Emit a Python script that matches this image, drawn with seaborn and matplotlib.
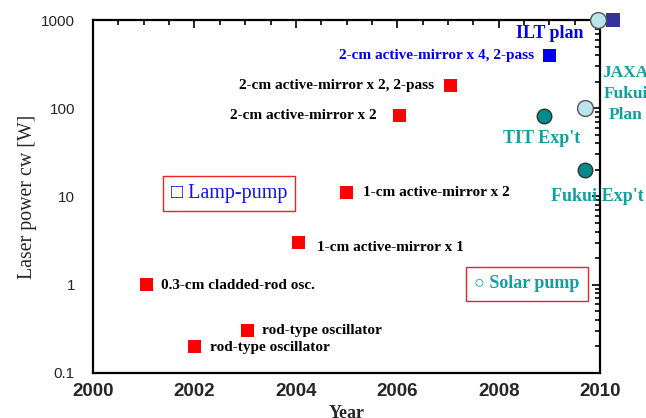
import pandas as pd
import seaborn as sns
import matplotlib.pyplot as plt
from matplotlib.ticker import MultipleLocator, LogLocator, FixedLocator, NullFormatter

# lamp-pumped results (red squares)
lamp_year = [2001.05, 2002.0, 2003.05, 2004.05, 2005.0, 2006.05, 2007.05]
lamp_power = [1.0, 0.2, 0.3, 3.0, 11.0, 82.0, 180.0]
lamp_label = ['0.3-cm cladded-rod osc.', 'rod-type oscillator', 'rod-type oscillator',
              '1-cm active-mirror x 1', '1-cm active-mirror x 2',
              '2-cm active-mirror x 2', '2-cm active-mirror x 2, 2-pass']

# ILT plan (blue squares)
ilt_year = [2009.0, 2010.25]
ilt_power = [400.0, 1000.0]

# solar pump experiments (teal circles) and plans (light circles)
exp_year = [2008.9, 2009.7]
exp_power = [82.0, 20.0]
plan_year = [2009.7, 2009.95]
plan_power = [100.0, 1000.0]

teal = '#149f9f'
serif = 'Liberation Serif'

sns.set_style('white')
plt.rcParams['font.family'] = ['Liberation Sans', 'DejaVu Sans']

fig = plt.figure(figsize=(6.46, 4.18), dpi=100)
ax = fig.add_axes([0.144, 0.108, 0.785, 0.844])

df_lamp = pd.DataFrame({'Year': lamp_year, 'Power': lamp_power})
sns.scatterplot(x='Year', y='Power', data=df_lamp, marker='s', s=85, color='#ff0000',
                edgecolor='none', ax=ax, zorder=3)
sns.scatterplot(x=ilt_year[:1], y=ilt_power[:1], marker='s', s=85, color='#0000ee',
                edgecolor='none', ax=ax, zorder=3)
sns.scatterplot(x=ilt_year[1:], y=ilt_power[1:], marker='s', s=110, color='#333399',
                edgecolor='none', ax=ax, zorder=3, clip_on=False)
sns.scatterplot(x=exp_year, y=exp_power, marker='o', s=110, color='#008b8b',
                edgecolor='#333333', linewidth=1, ax=ax, zorder=3)
sns.scatterplot(x=plan_year, y=plan_power, marker='o', s=130, color='#b8e6ea',
                edgecolor='#555555', linewidth=1, ax=ax, zorder=4, clip_on=False)

ax.set_yscale('log')
ax.set_xlim(2000, 2010)
ax.set_ylim(0.1, 1000)

# point labels
lab_kw = dict(fontsize=11, fontweight='bold', family=serif, color='black', va='center')
offs = [(0.3, 0.98, 'left'), (0.3, 0.98, 'left'), (0.28, 1.0, 'left'), (0.37, 0.88, 'left'),
        (0.33, 1.0, 'left'), (-0.45, 1.0, 'right'), (-0.33, 1.0, 'right')]
for xv, yv, lab, (dx, fy, ha) in zip(lamp_year, lamp_power, lamp_label, offs):
    ax.text(xv + dx, yv * fy, lab, ha=ha, **lab_kw)

ax.text(2008.7, 400, '2-cm active-mirror x 4, 2-pass', ha='right', va='center',
        fontsize=11, fontweight='bold', family=serif, color='#0000ee')
ax.text(2009.0, 700, 'ILT plan', ha='center', va='center', fontsize=13,
        fontweight='bold', family=serif, color='#0000ee')
ax.text(2010.5, 145, 'JAXA\nFukui\nPlan', ha='center', va='center', fontsize=12.5,
        fontweight='bold', family=serif, color=teal, linespacing=1.45, clip_on=False)
ax.text(2008.85, 45, "TIT Exp't", ha='center', va='center', fontsize=13,
        fontweight='bold', family=serif, color=teal)
ax.text(2009.95, 10.0, "Fukui Exp't", ha='center', va='center', fontsize=13,
        fontweight='bold', family=serif, color=teal, clip_on=False)

ax.text(2002.68, 10.7, '\u25a1 Lamp-pump', ha='center', va='center', fontsize=14.5,
        family=serif, color='#1010ee',
        bbox=dict(boxstyle='square,pad=0.4', fc='white', ec='#ee2222', lw=1))
ax.text(2008.56, 1.02, '\u25cb Solar pump', ha='center', va='center', fontsize=13,
        fontweight='bold', family=serif, color=teal,
        bbox=dict(boxstyle='square,pad=0.45', fc='white', ec='#ee2222', lw=1))

# axes styling
for sp in ax.spines.values():
    sp.set_linewidth(1.6)
    sp.set_color('black')
ax.xaxis.set_major_locator(MultipleLocator(2))
ax.xaxis.set_minor_locator(MultipleLocator(0.5))
ax.yaxis.set_major_locator(FixedLocator([0.1, 1, 10, 100, 1000]))
ax.yaxis.set_minor_locator(LogLocator(base=10, subs=range(2, 10)))
ax.yaxis.set_minor_formatter(NullFormatter())
ax.set_yticklabels(['0.1', '1', '10', '100', '1000'])
ax.tick_params(which='both', direction='in', top=True, right=True, width=1.2, color='black')
ax.tick_params(which='major', length=6)
ax.tick_params(which='minor', length=3.5)
ax.tick_params(axis='y', labelsize=11, pad=13)
ax.tick_params(axis='x', labelsize=13.5, pad=7)
for t in ax.get_xticklabels():
    t.set_fontweight('bold')

ax.set_xlabel('Year', fontsize=13, fontweight='bold', family=serif, labelpad=4)
ax.set_ylabel('Laser power cw [W]', fontsize=14.3, family=serif)
ax.yaxis.set_label_coords(-0.11, 0.5)

plt.savefig('out.png', dpi=100)
